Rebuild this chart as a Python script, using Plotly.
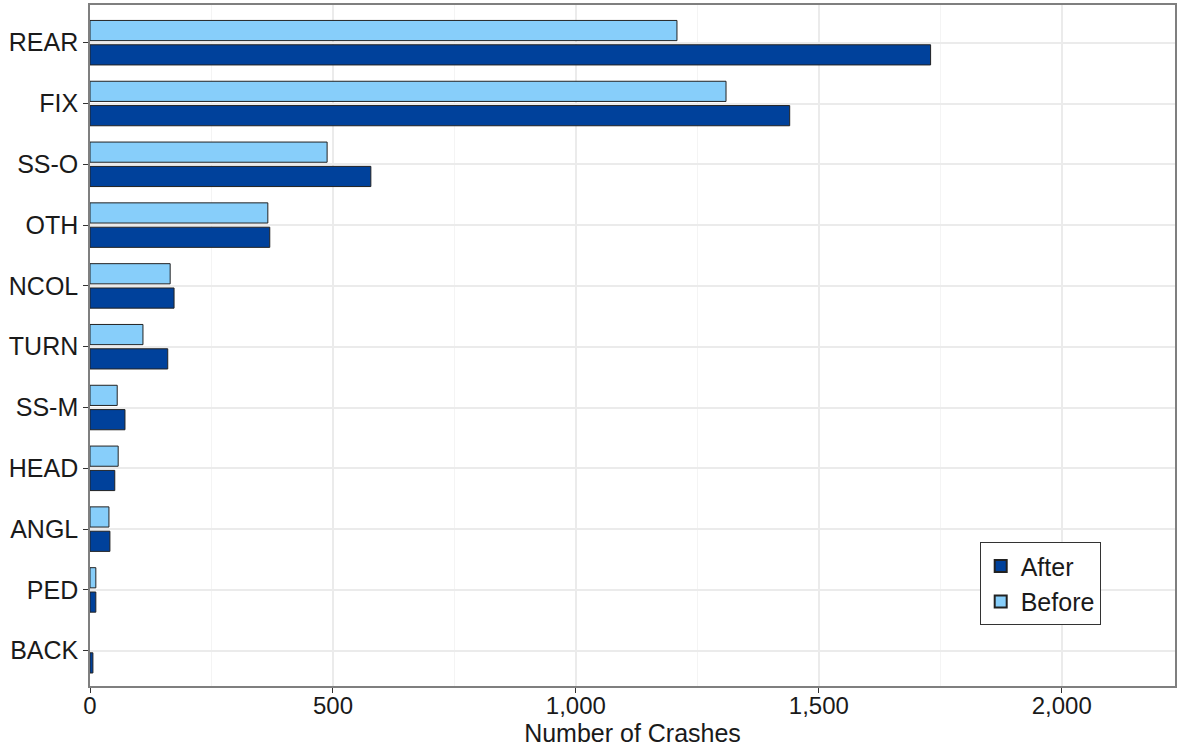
import plotly.graph_objects as go

categories = ["REAR", "FIX", "SS-O", "OTH", "NCOL", "TURN", "SS-M", "HEAD", "ANGL", "PED", "BACK"]
before = [1208, 1309, 488, 366, 165, 109, 56, 58, 39, 12, 0]
after = [1730, 1440, 578, 370, 173, 160, 72, 51, 41, 12, 6]
x_ticks = [0, 500, 1000, 1500, 2000]
x_tick_labels = ["0", "500", "1,000", "1,500", "2,000"]


def outline_widths(values):
    return [1 if v > 0 else 0 for v in values]


fig = go.Figure()
fig.add_trace(go.Bar(
    y=categories, x=before, orientation="h", name="Before",
    marker=dict(color="#87CEFA", line=dict(color="#222222", width=outline_widths(before))),
    legendrank=2,
))
fig.add_trace(go.Bar(
    y=categories, x=after, orientation="h", name="After",
    marker=dict(color="#00419B", line=dict(color="#222222", width=outline_widths(after))),
    legendrank=1,
))

fig.update_layout(
    width=1177, height=750,
    margin=dict(l=90, r=2, t=5, b=64),
    paper_bgcolor="white", plot_bgcolor="white",
    barmode="group", bargap=0.2, bargroupgap=0.17,
    font=dict(family="Liberation Sans, Arial, sans-serif", size=24, color="#1a1a1a"),
    legend=dict(
        x=0.82, y=0.211, xanchor="left", yanchor="top",
        bgcolor="white", bordercolor="#333333", borderwidth=1,
        font=dict(size=25), itemsizing="constant",
    ),
    xaxis=dict(
        range=[0, 2233], tickvals=x_ticks, ticktext=x_tick_labels,
        tickfont=dict(size=24), ticklabelstandoff=-8,
        showgrid=True, gridcolor="#EBEBEB", gridwidth=1.5,
        minor=dict(showgrid=True, gridcolor="#F4F4F4", gridwidth=1, dtick=250, tick0=0),
        showline=True, linecolor="#7f7f7f", linewidth=1.5, mirror=True,
        ticks="outside", ticklen=5, tickcolor="#333333",
        zeroline=False, automargin=False,
        title=dict(text="Number of Crashes", standoff=7, font=dict(size=25)),
    ),
    yaxis=dict(
        categoryorder="array", categoryarray=categories,
        range=[10.58, -0.62],
        tickfont=dict(size=25),
        showgrid=True, gridcolor="#EBEBEB", gridwidth=1.5,
        showline=True, linecolor="#7f7f7f", linewidth=1.5, mirror=True,
        ticks="outside", ticklen=5, tickcolor="#333333",
        automargin=False,
    ),
)

fig.write_html("out.html")
